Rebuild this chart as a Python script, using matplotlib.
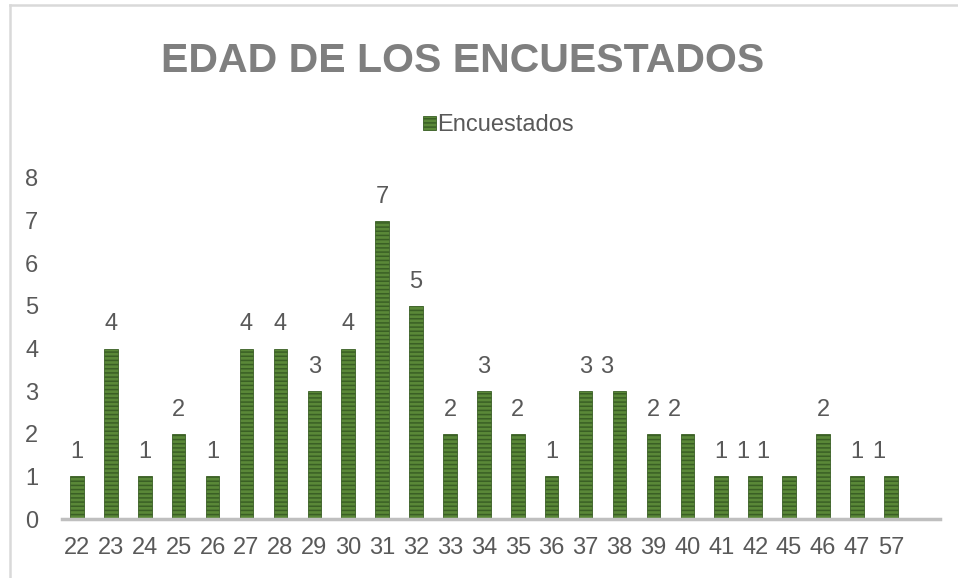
import matplotlib
matplotlib.use("Agg")
import matplotlib.pyplot as plt
from matplotlib.patches import Patch
from matplotlib.lines import Line2D

# edades y numero de encuestados
edades = ["22", "23", "24", "25", "26", "27", "28", "29", "30", "31", "32", "33", "34",
          "35", "36", "37", "38", "39", "40", "41", "42", "45", "46", "47", "57"]
encuestados = [1, 4, 1, 2, 1, 4, 4, 3, 4, 7, 5, 2, 3,
               2, 1, 3, 3, 2, 2, 1, 1, 1, 2, 1, 1]

# Excel pushed some data labels sideways (points)
label_dx = [0, 0, 0, 0, 0, 0, 0, 0, 0, 0, 0, 0, 0,
            0, 0, 0, -9, 0, -9, 0, -9, -19, 0, 0, -9]

plt.rcParams['font.family'] = ['Liberation Sans', 'DejaVu Sans']
plt.rcParams['hatch.linewidth'] = 1.1

txt = '#595959'
face = '#5A8838'
stripe = '#3A5F25'
fs = 17

fig = plt.figure(figsize=(9.58, 5.78), dpi=100)
ax = fig.add_axes([62/958, 59/578, 878/958, 341/578])

x = range(len(edades))
ax.bar(x, encuestados, width=0.4, color=face, edgecolor=stripe,
       hatch='----', linewidth=0.6)

for i, v in enumerate(encuestados):
    ax.annotate(str(v), (i, v), xytext=(label_dx[i], 13), textcoords='offset points',
                ha='center', va='baseline', fontsize=fs, color=txt)

ax.set_xlim(-0.44, 25.45)
ax.set_ylim(0, 8)
ax.set_xticks(list(x))
ax.set_xticklabels(edades)
ax.set_yticks(range(9))
ax.tick_params(axis='both', length=0, labelsize=fs, labelcolor=txt)
ax.tick_params(axis='x', pad=13)
ax.tick_params(axis='y', pad=17)
for s in ['top', 'right', 'left']:
    ax.spines[s].set_visible(False)
ax.spines['bottom'].set_color('#BFBFBF')
ax.spines['bottom'].set_linewidth(2.5)

fig.text(463/958, 1 - 72/578, 'EDAD DE LOS ENCUESTADOS',
         fontweight='bold', fontsize=29.5, color='#7F7F7F',
         ha='center', va='baseline')

handle = Patch(facecolor=face, edgecolor=stripe, hatch='----', linewidth=0.6)
fig.legend([handle], ['Encuestados'], loc='center', bbox_to_anchor=(498/958, 1 - 125/578),
           frameon=False, fontsize=fs, labelcolor=txt,
           handlelength=0.55, handleheight=0.55, handletextpad=0.05)

# chart frame (only top and left edges fall inside the image)
fig.add_artist(Line2D([9.5/958, 1], [1 - 4.5/578, 1 - 4.5/578], color='#D9D9D9', lw=1.8))
fig.add_artist(Line2D([9.5/958, 9.5/958], [0, 1 - 4.5/578], color='#D9D9D9', lw=1.8))

fig.savefig('out.png', dpi=100)
